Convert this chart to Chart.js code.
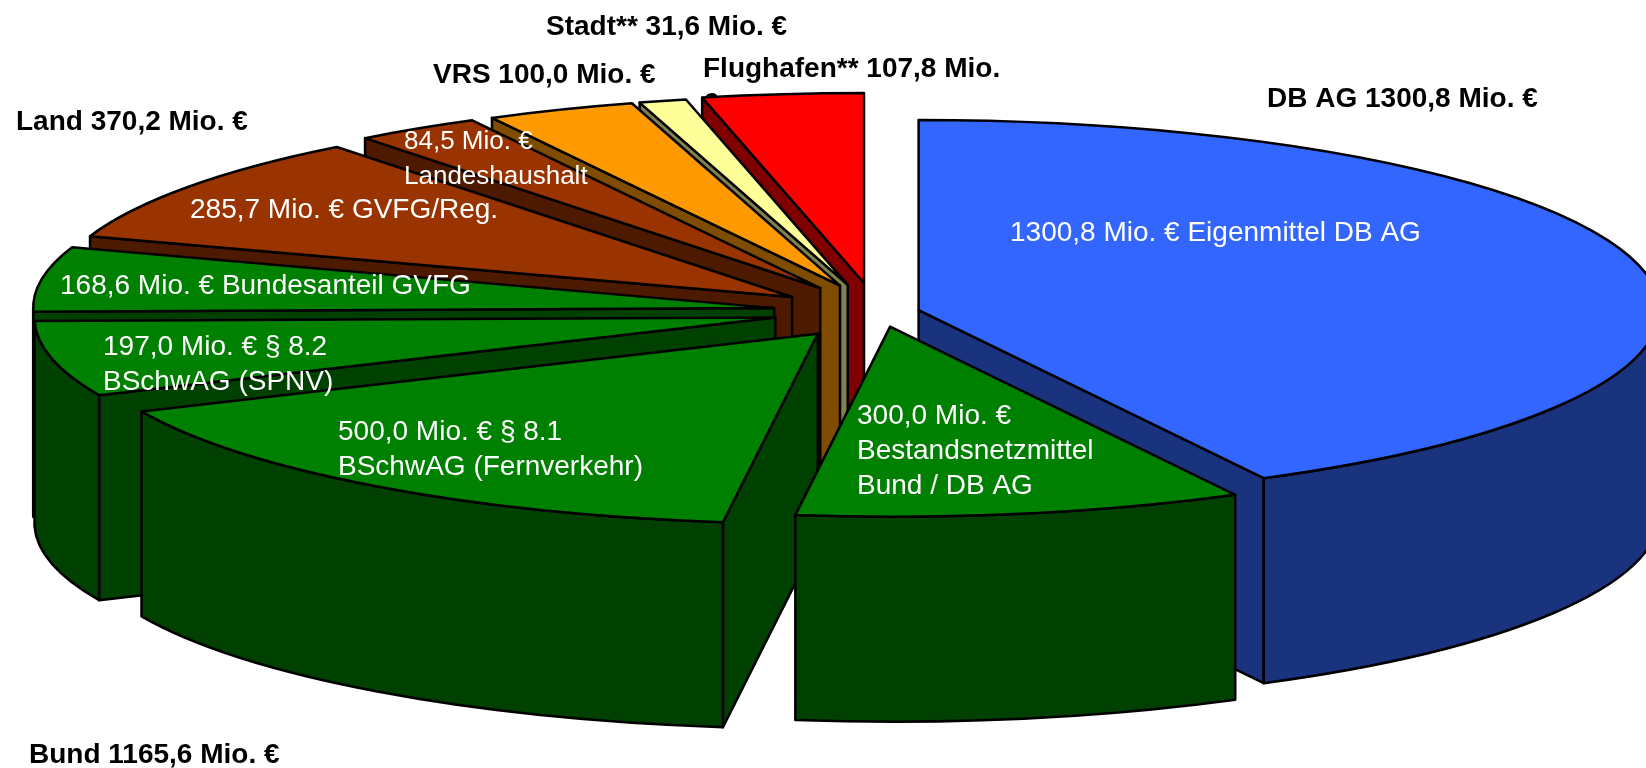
<!DOCTYPE html>
<html lang="de">
<head>
    <meta charset="UTF-8">
    <title>Finanzierung</title>
    <script src="https://cdn.jsdelivr.net/npm/chart.js"></script>
    <style>
        html, body { margin: 0; padding: 0; background: #fff; overflow: hidden; }
        canvas { display: block; }
    </style>
</head>
<body>
    <canvas id="pieChart" width="1646" height="768"></canvas>

    <script>
        const categories = ['Eigenmittel DB AG', 'Bestandsnetzmittel Bund / DB AG', '§ 8.1 BSchwAG (Fernverkehr)', '§ 8.2 BSchwAG (SPNV)',
            'Bundesanteil GVFG', 'GVFG/Reg.', 'Landeshaushalt', 'VRS', 'Stadt', 'Flughafen'];
        const sliceValues = [1300.8, 300.0, 500.0, 197.0, 168.6, 285.7, 84.5, 100.0, 31.6, 107.8];
        const topColors = ['#3366ff', '#008000', '#008000', '#008000', '#008000', '#993300', '#993300', '#ff9900', '#ffff99', '#ff0000'];
        const sideColors = ['#1a337f', '#004000', '#004000', '#004000', '#004000', '#4d1a00', '#4d1a00', '#804d00', '#808050', '#800000'];
        const explode = [48, 74, 96, 99, 99, 98, 95, 90, 97, 100];
        // small corrections on top of the radial explode
        const nudgeX = [0, 5, 3, 0, 0, 0, 0, 2, 0, 3];
        const nudgeY = [3, -2, 4, 2, 2, 1.5, -1.5, -3, -1, -1.5];

        const groupLabels = [['Stadt** 31,6 Mio. €'], ['VRS 100,0 Mio. €'], ['Flughafen** 107,8 Mio.', '€'],
            ['DB AG 1300,8 Mio. €'], ['Land 370,2 Mio. €'], ['Bund 1165,6 Mio. €']];
        const sliceLabels = [['1300,8 Mio. € Eigenmittel DB AG'], ['300,0 Mio. €', 'Bestandsnetzmittel', 'Bund / DB AG'],
            ['500,0 Mio. € § 8.1', 'BSchwAG (Fernverkehr)'], ['197,0 Mio. € § 8.2', 'BSchwAG (SPNV)'],
            ['168,6 Mio. € Bundesanteil GVFG'], ['285,7 Mio. € GVFG/Reg.'], ['84,5 Mio. €', 'Landeshaushalt']];

        const groupLabelPos = [[546, 35], [433, 83], [703, 77], [1267, 107], [16, 130], [29, 763]];
        const sliceLabelPos = [[1010, 241], [857, 424], [338, 440], [103, 355], [60, 294], [190, 218], [404, 149]];
        const sliceLabelSizes = [28, 28, 28, 28, 28, 28, 26];

        const SQUASH = 190 / 741;
        const DEPTH = 205;
        const LINE_GAP = 35;

        function drawLabels(ctx, labels, positions, fontFor, color) {
            ctx.save();
            ctx.fillStyle = color;
            ctx.textBaseline = 'alphabetic';
            labels.forEach((lines, i) => {
                ctx.font = fontFor(i);
                lines.forEach((line, j) => {
                    ctx.fillText(line, positions[i][0], positions[i][1] + j * LINE_GAP);
                });
            });
            ctx.restore();
        }

        // top face and the visible walls of one slice, squashed into an ellipse
        function drawSlice(ctx, arc, index) {
            const p = arc.getProps(['x', 'y', 'startAngle', 'endAngle', 'outerRadius'], true);
            const mid = (p.startAngle + p.endAngle) / 2;
            const cx = p.x + Math.cos(mid) * arc.options.offset + nudgeX[index];
            const cy = p.y + Math.sin(mid) * arc.options.offset * SQUASH + nudgeY[index];
            const rx = p.outerRadius;
            const ry = p.outerRadius * SQUASH;
            const pointAt = a => [cx + Math.cos(a) * rx, cy + Math.sin(a) * ry];

            ctx.lineWidth = 2.5;
            ctx.lineJoin = 'round';
            ctx.strokeStyle = '#000';
            ctx.fillStyle = sideColors[index];

            function wall(a) {
                const q = pointAt(a);
                ctx.beginPath();
                ctx.moveTo(cx, cy);
                ctx.lineTo(q[0], q[1]);
                ctx.lineTo(q[0], q[1] + DEPTH);
                ctx.lineTo(cx, cy + DEPTH);
                ctx.closePath();
                ctx.fill();
                ctx.stroke();
            }

            // only the walls turned towards the viewer
            if (Math.cos(p.startAngle) < -1e-6) wall(p.startAngle);
            if (Math.cos(p.endAngle) > 1e-6) wall(p.endAngle);

            // outer band, front half only
            [[0, Math.PI], [2 * Math.PI, 3 * Math.PI]].forEach(range => {
                const from = Math.max(p.startAngle, range[0]);
                const to = Math.min(p.endAngle, range[1]);
                if (to <= from) return;
                const q = pointAt(to);
                ctx.beginPath();
                ctx.ellipse(cx, cy, rx, ry, 0, from, to);
                ctx.lineTo(q[0], q[1] + DEPTH);
                ctx.ellipse(cx, cy + DEPTH, rx, ry, 0, to, from, true);
                ctx.closePath();
                ctx.fill();
                ctx.stroke();
            });

            ctx.fillStyle = arc.options.backgroundColor;
            ctx.beginPath();
            ctx.moveTo(cx, cy);
            ctx.ellipse(cx, cy, rx, ry, 0, p.startAngle, p.endAngle);
            ctx.closePath();
            ctx.fill();
            ctx.stroke();
        }

        const pie3d = {
            id: 'pie3d',
            beforeDatasetDraw(chart) {
                const ctx = chart.ctx;
                const arcs = chart.getDatasetMeta(0).data;
                drawLabels(ctx, groupLabels, groupLabelPos, () => 'bold 28px "Liberation Sans"', '#000');
                // blue first, then back to front against the clock
                ctx.save();
                drawSlice(ctx, arcs[0], 0);
                for (let i = arcs.length - 1; i > 0; i--) {
                    drawSlice(ctx, arcs[i], i);
                }
                ctx.restore();
                drawLabels(ctx, sliceLabels, sliceLabelPos, i => sliceLabelSizes[i] + 'px "Liberation Sans"', '#fff');
                return false;
            }
        };

        new Chart(document.getElementById('pieChart'), {
            type: 'pie',
            data: {
                labels: categories,
                datasets: [{
                    data: sliceValues,
                    backgroundColor: topColors,
                    offset: explode,
                    radius: 741,
                    borderWidth: 0
                }]
            },
            options: {
                responsive: false,
                animation: false,
                layout: { padding: { left: 98, bottom: 148 } },
                plugins: { legend: { display: false }, tooltip: { enabled: false } }
            },
            plugins: [pie3d]
        });
    </script>
</body>
</html>
